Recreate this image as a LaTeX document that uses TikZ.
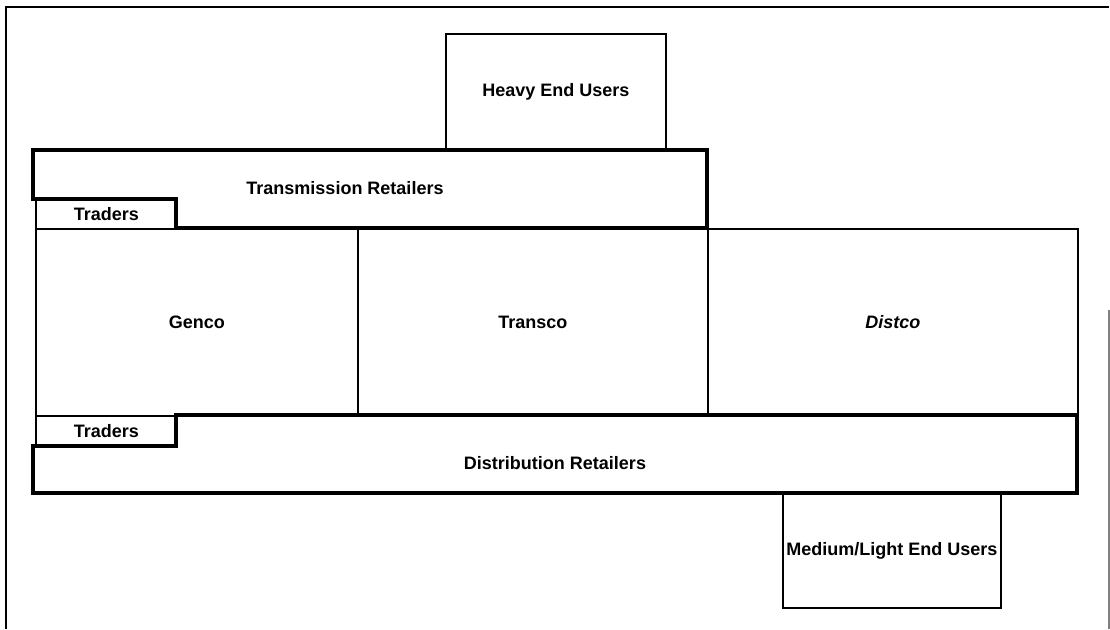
\documentclass[tikz,border=0pt]{standalone}
\usepackage{fontspec}
\setmainfont{Liberation Sans}
\usetikzlibrary{positioning}

\tikzset{
  box/.style={draw, line width=1.6pt, inner sep=0pt, anchor=north west},
  lbl/.style={font=\fontsize{18}{21}\selectfont\bfseries},
  thickline/.style={line width=4pt, line join=miter},
}

\begin{document}
\begin{tikzpicture}[x=1pt, y=-1pt]
        \useasboundingbox (0,0) rectangle (1110,629);

        % Frame
        \draw[line width=1.6pt] (6,629) -- (6,7) -- (1109,7);
        \draw[line width=1.6pt, gray] (1109,310) -- (1109,629);

        % Heavy end users on top
        \node[box, minimum width=220pt, minimum height=117pt] (heavy) at (445,33) {};
        \node[lbl] (heavylbl) at (heavy.center) {Heavy End Users};

        % Generation, transmission, distribution
        \node[box, minimum width=322pt, minimum height=187pt] (genco) at (35,228) {};
        \node[box, minimum width=350pt, minimum height=187pt] (transco) at (357,228) {};
        \node[box, minimum width=370pt, minimum height=187pt] (distco) at (707,228) {};
        \node[lbl] (gencolbl) at (genco.center) {Genco};
        \node[lbl] (transcolbl) at (transco.center) {Transco};
        \node[lbl, font=\fontsize{18}{21}\selectfont\bfseries\itshape] (distcolbl) at (distco.center) {Distco};

        % Traders
        \node[box, minimum width=141pt, minimum height=29pt] (tradtop) at (35,199) {};
        \node[box, minimum width=141pt, minimum height=31pt] (tradbot) at (35,415) {};
        \node[lbl] (tradtoplbl) at (tradtop.center) {Traders};
        \node[lbl] (tradbotlbl) at (tradbot.center) {Traders};

        % Retailers (thick outlines)
        \draw[thickline] (33,150) -- (707,150) -- (707,228) -- (176,228) -- (176,199) -- (33,199) -- cycle;
        \draw[thickline] (176,415) -- (1077,415) -- (1077,493) -- (33,493) -- (33,446) -- (176,446) -- cycle;
        \node[lbl] (transret) at (345,188) {Transmission Retailers};
        \node[lbl] (distret) at (555,463) {Distribution Retailers};

        % Medium/light end users below
        \node[box, minimum width=218pt, minimum height=114pt] (medium) at (782,493) {};
        \node[lbl] (mediumlbl) at (medium.center) {Medium/Light End Users};
\end{tikzpicture}
\end{document}
